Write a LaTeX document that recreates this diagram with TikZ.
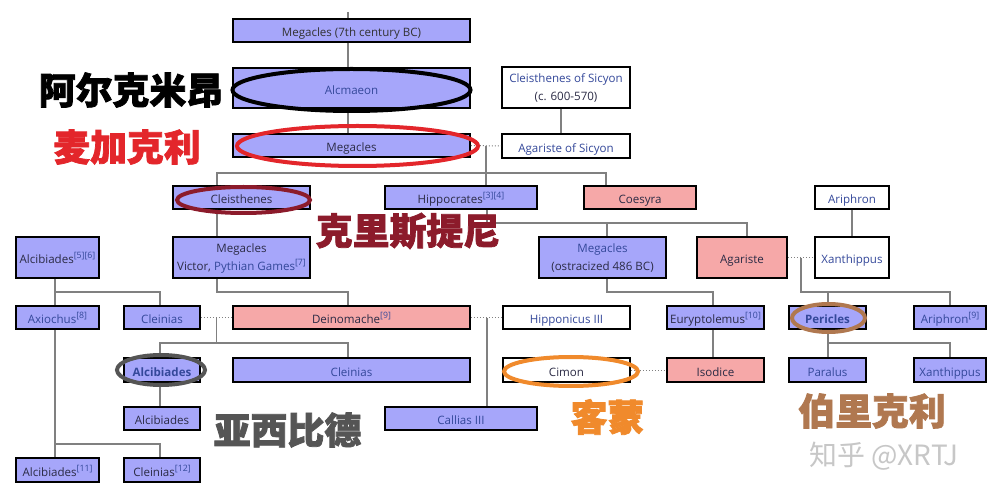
\documentclass[tikz,border=0pt]{standalone}
\usepackage{fontspec}
\setmainfont{Open Sans}
\newfontfamily\cjk{Noto Sans CJK SC}[BoldFeatures={FakeBold=2}]
\newfontfamily\cjklight{Noto Sans CJK SC}
\usetikzlibrary{shapes.geometric}
\definecolor{boxblue}{HTML}{A6A6FA}
\definecolor{boxpink}{HTML}{F6A8A8}
\definecolor{lnk}{HTML}{34489A}
\definecolor{dk}{HTML}{2B2B45}
\definecolor{cnred}{HTML}{E3262B}
\definecolor{cnmaroon}{HTML}{8C1B2B}
\definecolor{cngray}{HTML}{555555}
\definecolor{cnorange}{HTML}{F08A2C}
\definecolor{cnbrown}{HTML}{B07850}
\newcommand{\sref}[1]{\raisebox{0.42em}{\fontsize{8.8}{10}\selectfont\color{lnk}#1}}
\newcommand{\twolines}[2]{\begin{tabular}[t]{@{}c@{}}#1\\#2\end{tabular}}
\newcommand{\pnode}[7]{\node[#1, minimum width={(#5-#3)*1bp}, minimum height={(#6-#4)*1bp}] (#2) at ({(#3+#5)/2},{(#4+#6)/2}) {#7};}
\begin{document}
\begin{tikzpicture}[x=1bp,y=-1bp,
  person/.style={draw=black, line width=1.8bp, inner sep=0pt, font=\fontsize{11.6}{17.5}\selectfont, text=dk, text height=12.4bp, text depth=0bp},
  bb/.style={person, fill=boxblue},
  pb/.style={person, fill=boxpink},
  wb/.style={person, fill=white},
  two/.style={text height=0bp, text depth=9bp},
  bold/.style={font=\fontsize{11.6}{17.5}\selectfont\bfseries},
  ln/.style={draw=gray, line width=1.1bp},
  dt/.style={draw=gray, line width=1bp, dash pattern=on 1bp off 2bp},
  ring/.style={draw, ellipse, inner sep=0pt, line width=4bp},
  cjktxt/.style={font=\cjk\bfseries\fontsize{37}{40}\selectfont, inner sep=0pt}
]
\fill[white] (0,0) rectangle (995,498);
\useasboundingbox (0,0) rectangle (995,498);

% boxes
\pnode{bb, text=black!80}{m7}{233}{19}{470}{42}{Megacles (7th century BC)}
\pnode{bb, text=lnk}{alc}{233}{68}{470}{108}{Alcmaeon}
\pnode{bb}{meg}{233}{134}{470}{157}{Megacles}
\pnode{wb, two}{cs}{502}{67}{630}{108}{\twolines{\color{lnk}Cleisthenes of Sicyon}{(c. 600-570)}}
\pnode{wb, text=lnk}{as}{502}{134}{630}{158}{Agariste of Sicyon}
\pnode{bb}{cl}{173}{186}{310}{209}{Cleisthenes}
\pnode{bb}{hip}{385}{186}{537}{209}{Hippocrates\sref{[3][4]}}
\pnode{pb}{coe}{584}{186}{696}{209}{Coesyra}
\pnode{wb, text=lnk}{ari}{815}{186}{889}{209}{Ariphron}
\pnode{bb}{a56}{16}{237}{99}{278}{Alcibiades\sref{[5][6]}}
\pnode{bb, two}{mv}{173}{237}{310}{278}{\twolines{Megacles}{Victor, {\color{lnk}Pythian Games}\sref{[7]}}}
\pnode{bb, two}{meo}{539}{237}{666}{278}{\twolines{\color{lnk}Megacles}{(ostracized 486 BC)}}
\pnode{pb}{aga}{697}{237}{787}{278}{Agariste}
\pnode{wb, text=lnk}{xan}{815}{237}{889}{278}{Xanthippus}
\pnode{bb, text=lnk}{axi}{16}{306}{99}{329}{Axiochus\sref{[8]}}
\pnode{bb, text=lnk}{cle1}{124}{306}{200}{329}{Cleinias}
\pnode{pb}{dei}{233}{306}{470}{329}{Deinomache\sref{[9]}}
\pnode{wb, text=lnk}{hip3}{503}{306}{630}{329}{Hipponicus III}
\pnode{bb}{eur}{667}{306}{764}{329}{Euryptolemus\sref{[10]}}
\pnode{bb, text=lnk, bold}{per}{789}{306}{866}{329}{Pericles}
\pnode{bb, text=lnk}{ar9}{914}{306}{986}{329}{Ariphron\sref{[9]}}
\pnode{bb, text=lnk, bold}{alb}{124}{358}{200}{382}{Alcibiades}
\pnode{bb, text=lnk}{cle2}{233}{358}{470}{382}{Cleinias}
\pnode{wb}{cim}{503}{358}{630}{382}{Cimon}
\pnode{pb}{iso}{667}{358}{764}{382}{Isodice}
\pnode{bb, text=lnk}{par}{789}{358}{866}{382}{Paralus}
\pnode{bb, text=lnk}{xa2}{914}{358}{986}{382}{Xanthippus}
\pnode{bb}{alb2}{124}{407}{200}{430}{Alcibiades}
\pnode{bb, text=lnk}{cal}{385}{407}{537}{430}{Callias III}
\pnode{bb}{a11}{16}{458}{99}{482}{Alcibiades\sref{[11]}}
\pnode{bb}{c12}{124}{458}{200}{482}{Cleinias\sref{[12]}}

% junction coordinates
\coordinate (t0) at (348,12);
\coordinate (j1) at (486,146);
\coordinate (j2) at (217,173);
\coordinate (j3) at (606,173);
\coordinate (j4) at (487,223);
\coordinate (j5) at (607,223);
\coordinate (j6) at (747,223);
\coordinate (j7) at (217,292);
\coordinate (j8) at (348,292);
\coordinate (j9) at (55,292);
\coordinate (j10) at (160,292);
\coordinate (j11) at (607,292);
\coordinate (j12) at (713,292);
\coordinate (j13) at (801,258);
\coordinate (j14) at (801,292);
\coordinate (j15) at (828,292);
\coordinate (j16) at (950,292);
\coordinate (j17) at (216.5,318);
\coordinate (j18) at (216.5,343);
\coordinate (j19) at (160,343);
\coordinate (j20) at (348,343);
\coordinate (j21) at (487,318);
\coordinate (j22) at (828,343);
\coordinate (j23) at (950,343);
\coordinate (j24) at (55,444);
\coordinate (j25) at (160,444);

% connectors
\draw[ln] (t0) -- (t0 |- m7.north);
\draw[ln] (t0 |- m7.south) -- (t0 |- alc.north);
\draw[ln] (t0 |- alc.south) -- (t0 |- meg.north);
\draw[ln] (cs.south -| 561,0) -- (as.north -| 561,0);
\draw[dt] (meg.east) -- (as.west);
\draw[ln] (j1) -- (j1 |- hip.north);
\draw[ln] (j2 |- cl.north) -- (j2) -- (j3) -- (j3 |- coe.north);
\draw[ln] (j4 |- hip.south) -- (j4) -- (j6) -- (j6 |- aga.north);
\draw[ln] (j5) -- (j5 |- meo.north);
\draw[ln] (ari.south) -- (xan.north);
\draw[ln] (j2 |- cl.south) -- (j2 |- mv.north);
\draw[ln] (j7 |- mv.south) -- (j7) -- (j8) -- (j8 |- dei.north);
\draw[ln] (j9 |- a56.south) -- (j9 |- axi.north);
\draw[ln] (j9) -- (j10) -- (j10 |- cle1.north);
\draw[ln] (j11 |- meo.south) -- (j11) -- (j12) -- (j12 |- eur.north);
\draw[dt] (aga.east) -- (xan.west);
\draw[ln] (j13) -- (j14) -- (j16) -- (j16 |- ar9.north);
\draw[ln] (j15) -- (j15 |- per.north);
\draw[dt] (cle1.east) -- (dei.west);
\draw[ln] (j17) -- (j18);
\draw[ln] (j19 |- alb.north) -- (j19) -- (j20) -- (j20 |- cle2.north);
\draw[dt] (dei.east) -- (hip3.west);
\draw[ln] (j21) -- (j21 |- cal.north);
\draw[ln] (j12 |- eur.south) -- (j12 |- iso.north);
\draw[dt] (cim.east) -- (iso.west);
\draw[ln] (j22 |- per.south) -- (j22) -- (j23) -- (j23 |- xa2.north);
\draw[ln] (j22) -- (j22 |- par.north);
\draw[ln] (j19 |- alb.south) -- (j19 |- alb2.north);
\draw[ln] (j9 |- axi.south) -- (j9 |- a11.north);
\draw[ln] (j24) -- (j25) -- (j25 |- c12.north);

% highlight rings
\node[ring, draw=black, minimum width=238bp, minimum height=42bp] (r1) at (351.5,90) {};
\node[ring, draw=cnred, minimum width=241bp, minimum height=40bp] (r2) at (357.5,146) {};
\node[ring, draw=cnmaroon, minimum width=133bp, minimum height=26bp] (r3) at (243.5,200) {};
\node[ring, draw=cngray, minimum width=88bp, minimum height=30bp] (r4) at (161,370) {};
\node[ring, draw=cnorange, minimum width=134bp, minimum height=29bp] (r5) at (571,371.5) {};
\node[ring, draw=cnbrown, minimum width=73bp, minimum height=28bp] (r6) at (828.5,318) {};

% Chinese labels
\node[cjktxt, text=black] (c1) at (131,90) {阿尔克米昂};
\node[cjktxt, text=cnred] (c2) at (127,147) {麦加克利};
\node[cjktxt, text=cnmaroon] (c3) at (408,231) {克里斯提尼};
\node[cjktxt, text=cngray] (c4) at (287.5,430) {亚西比德};
\node[cjktxt, text=cnorange] (c5) at (607.5,417) {客蒙};
\node[cjktxt, text=cnbrown] (c6) at (872,411) {伯里克利};
\node[font=\cjklight\fontsize{28}{30}\selectfont, text=black!22, inner sep=0pt] (wm) at (884,456) {知乎 @XRTJ};
\end{tikzpicture}
\end{document}
